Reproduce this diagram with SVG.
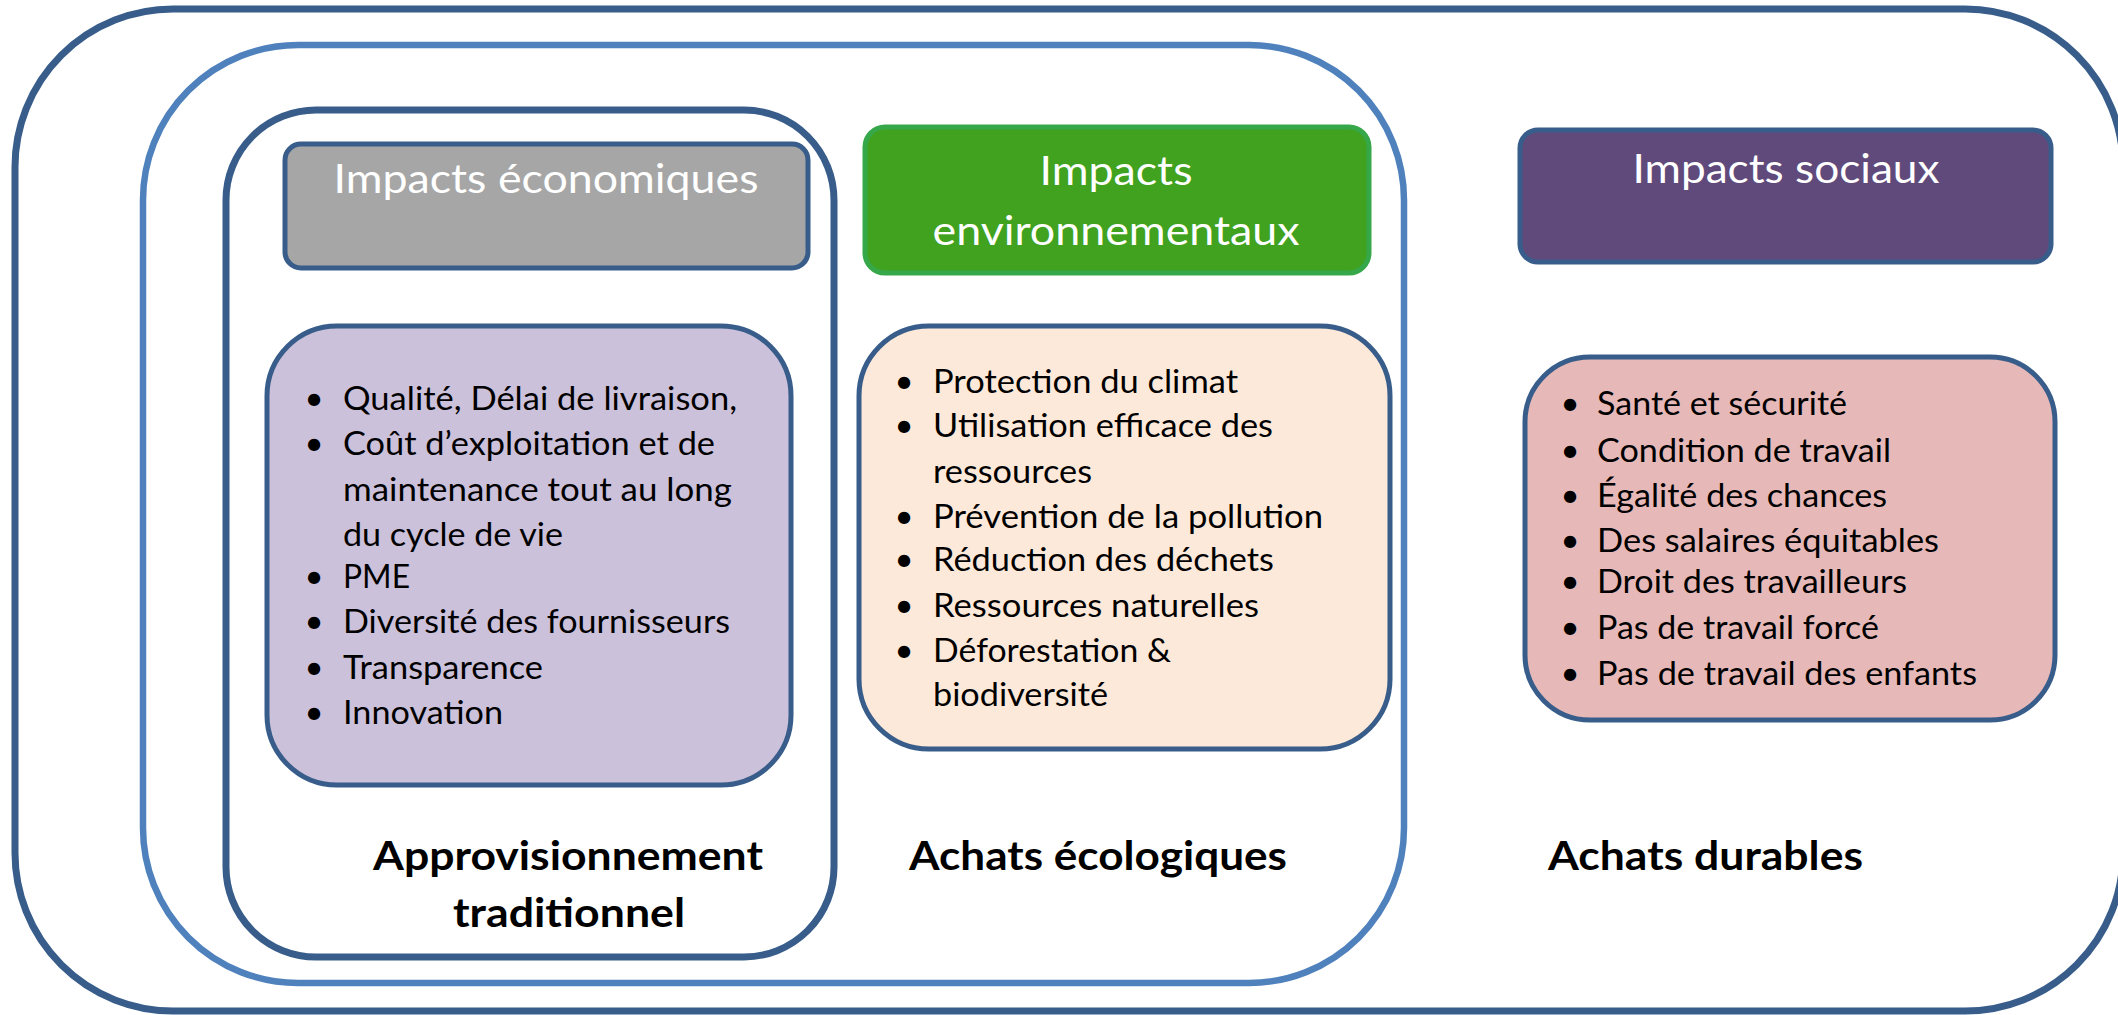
<svg xmlns="http://www.w3.org/2000/svg" width="2118" height="1015" viewBox="0 0 2118 1015">
<style>
.frame{fill:none;stroke-linejoin:round}
.dark{stroke:#385D8A}
.light{stroke:#4F81BD}
.box{stroke:#385D8A;stroke-width:5}
.hd{font-family:Lato,"Open Sans","Liberation Sans",sans-serif;font-size:41px;fill:#FFFFFF;text-anchor:middle}
.bd{font-family:Lato,"Open Sans","Liberation Sans",sans-serif;font-size:33px;fill:#000000}
.bu{font-family:Lato,"Open Sans","Liberation Sans",sans-serif;font-size:33px;fill:#000000;text-anchor:middle}
.lb{font-family:Lato,"Open Sans","Liberation Sans",sans-serif;font-size:40px;font-weight:bold;fill:#000000}
</style>
<rect x="0" y="0" width="2118" height="1015" fill="#FFFFFF"/>
<g id="achats-durables">
  <rect class="frame dark" x="15" y="9" width="2108" height="1002" rx="158" ry="158" stroke-width="7"/>
  <text class="lb" x="1548" y="870" textLength="315" lengthAdjust="spacingAndGlyphs">Achats durables</text>
</g>
<g id="achats-ecologiques">
  <rect class="frame light" x="143" y="45" width="1261" height="938" rx="155" ry="155" stroke-width="6.5"/>
  <text class="lb" x="909" y="870" textLength="378" lengthAdjust="spacingAndGlyphs">Achats écologiques</text>
</g>
<g id="approvisionnement-traditionnel">
  <rect class="frame dark" x="226" y="110" width="608" height="847" rx="90" ry="90" stroke-width="7"/>
  <text class="lb" x="373" y="870" textLength="390" lengthAdjust="spacingAndGlyphs">Approvisionnement</text>
  <text class="lb" x="453" y="927" textLength="232" lengthAdjust="spacingAndGlyphs">traditionnel</text>
</g>
<g id="impacts-economiques">
  <rect class="box" x="285" y="144" width="523" height="124" rx="16" ry="16" fill="#A6A6A6"/>
  <text class="hd" x="546" y="193" textLength="425" lengthAdjust="spacingAndGlyphs">Impacts économiques</text>
</g>
<g id="impacts-environnementaux">
  <rect x="865" y="127" width="504" height="146" rx="20" ry="20" fill="#40A21E" stroke="#36A84A" stroke-width="5"/>
  <text class="hd" x="1116" y="185" textLength="153" lengthAdjust="spacingAndGlyphs">Impacts</text>
  <text class="hd" x="1116" y="245" textLength="367" lengthAdjust="spacingAndGlyphs">environnementaux</text>
</g>
<g id="impacts-sociaux">
  <rect class="box" x="1520" y="130" width="531" height="132" rx="18" ry="18" fill="#604A7B"/>
  <text class="hd" x="1786" y="183" textLength="307" lengthAdjust="spacingAndGlyphs">Impacts sociaux</text>
</g>
<g id="liste-economique">
  <rect class="box" x="267" y="326" width="524" height="459" rx="70" ry="70" fill="#CCC1DA"/>
  <text class="bu" x="314" y="410">•</text>
  <text class="bd" x="343" y="410" textLength="394" lengthAdjust="spacingAndGlyphs">Qualité, Délai de livraison,</text>
  <text class="bu" x="314" y="455">•</text>
  <text class="bd" x="343" y="455" textLength="372" lengthAdjust="spacingAndGlyphs">Coût d’exploitation et de</text>
  <text class="bd" x="343" y="501" textLength="389" lengthAdjust="spacingAndGlyphs">maintenance tout au long</text>
  <text class="bd" x="343" y="546" textLength="220" lengthAdjust="spacingAndGlyphs">du cycle de vie</text>
  <text class="bu" x="314" y="588">•</text>
  <text class="bd" x="343" y="588" textLength="67" lengthAdjust="spacingAndGlyphs">PME</text>
  <text class="bu" x="314" y="633">•</text>
  <text class="bd" x="343" y="633" textLength="387" lengthAdjust="spacingAndGlyphs">Diversité des fournisseurs</text>
  <text class="bu" x="314" y="679">•</text>
  <text class="bd" x="343" y="679" textLength="200" lengthAdjust="spacingAndGlyphs">Transparence</text>
  <text class="bu" x="314" y="724">•</text>
  <text class="bd" x="343" y="724" textLength="160" lengthAdjust="spacingAndGlyphs">Innovation</text>
</g>
<g id="liste-environnementale">
  <rect class="box" x="859" y="326" width="531" height="423" rx="70" ry="70" fill="#FDE9D9"/>
  <text class="bu" x="904" y="393">•</text>
  <text class="bd" x="933" y="393" textLength="305" lengthAdjust="spacingAndGlyphs">Protection du climat</text>
  <text class="bu" x="904" y="437">•</text>
  <text class="bd" x="933" y="437" textLength="340" lengthAdjust="spacingAndGlyphs">Utilisation efficace des</text>
  <text class="bd" x="933" y="483" textLength="159" lengthAdjust="spacingAndGlyphs">ressources</text>
  <text class="bu" x="904" y="528">•</text>
  <text class="bd" x="933" y="528" textLength="390" lengthAdjust="spacingAndGlyphs">Prévention de la pollution</text>
  <text class="bu" x="904" y="571">•</text>
  <text class="bd" x="933" y="571" textLength="341" lengthAdjust="spacingAndGlyphs">Réduction des déchets</text>
  <text class="bu" x="904" y="617">•</text>
  <text class="bd" x="933" y="617" textLength="326" lengthAdjust="spacingAndGlyphs">Ressources naturelles</text>
  <text class="bu" x="904" y="662">•</text>
  <text class="bd" x="933" y="662" textLength="238" lengthAdjust="spacingAndGlyphs">Déforestation &amp;</text>
  <text class="bd" x="933" y="706" textLength="175" lengthAdjust="spacingAndGlyphs">biodiversité</text>
</g>
<g id="liste-sociale">
  <rect class="box" x="1525" y="357" width="530" height="363" rx="65" ry="65" fill="#E6B9B8"/>
  <text class="bu" x="1570" y="415">•</text>
  <text class="bd" x="1597" y="415" textLength="250" lengthAdjust="spacingAndGlyphs">Santé et sécurité</text>
  <text class="bu" x="1570" y="462">•</text>
  <text class="bd" x="1597" y="462" textLength="294" lengthAdjust="spacingAndGlyphs">Condition de travail</text>
  <text class="bu" x="1570" y="507">•</text>
  <text class="bd" x="1597" y="507" textLength="290" lengthAdjust="spacingAndGlyphs">Égalité des chances</text>
  <text class="bu" x="1570" y="552">•</text>
  <text class="bd" x="1597" y="552" textLength="342" lengthAdjust="spacingAndGlyphs">Des salaires équitables</text>
  <text class="bu" x="1570" y="593">•</text>
  <text class="bd" x="1597" y="593" textLength="310" lengthAdjust="spacingAndGlyphs">Droit des travailleurs</text>
  <text class="bu" x="1570" y="639">•</text>
  <text class="bd" x="1597" y="639" textLength="282" lengthAdjust="spacingAndGlyphs">Pas de travail forcé</text>
  <text class="bu" x="1570" y="685">•</text>
  <text class="bd" x="1597" y="685" textLength="380" lengthAdjust="spacingAndGlyphs">Pas de travail des enfants</text>
</g>
<g id="connectors"></g>
</svg>
